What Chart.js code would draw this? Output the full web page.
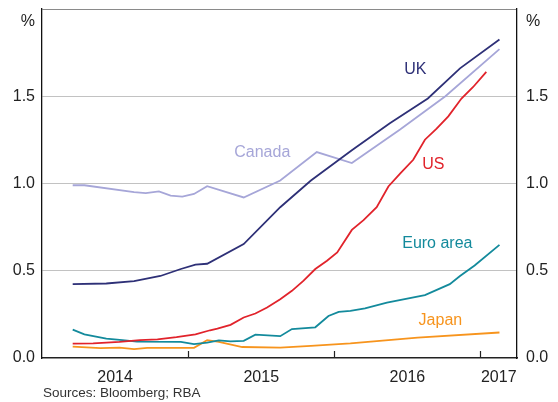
<!DOCTYPE html>
<html>
<head>
<meta charset="utf-8">
<script src="https://cdn.jsdelivr.net/npm/chart.js@4.4.1/dist/chart.umd.min.js"></script>
<style>
  html, body { margin: 0; padding: 0; background: #fff; }
  #wrap { width: 558px; height: 402px; position: relative; }
</style>
</head>
<body>
<div id="wrap"><canvas id="myChart"></canvas></div>
<script>
// dates are decimal years
const ukDates = [2014.21, 2014.44, 2014.63, 2014.81, 2014.95, 2015.05, 2015.13, 2015.38, 2015.63, 2015.84, 2016.12, 2016.38, 2016.64, 2016.86, 2017.13];
const ukValues = [0.423, 0.427, 0.44, 0.47, 0.51, 0.535, 0.54, 0.653, 0.864, 1.017, 1.19, 1.345, 1.487, 1.66, 1.825];

const canadaDates = [2014.21, 2014.29, 2014.63, 2014.71, 2014.80, 2014.88, 2014.96, 2015.04, 2015.13, 2015.38, 2015.63, 2015.88, 2016.12, 2016.45, 2016.76, 2017.13];
const canadaValues = [0.99, 0.99, 0.95, 0.945, 0.955, 0.93, 0.925, 0.94, 0.985, 0.92, 1.017, 1.18, 1.117, 1.31, 1.50, 1.77];

const usDates = [2014.21, 2014.35, 2014.53, 2014.67, 2014.79, 2014.92, 2015.05, 2015.15, 2015.20, 2015.29, 2015.38, 2015.46, 2015.54, 2015.63, 2015.71, 2015.79, 2015.87, 2015.95, 2016.02, 2016.12, 2016.20, 2016.29, 2016.37, 2016.45, 2016.54, 2016.62, 2016.70, 2016.78, 2016.87, 2016.95, 2017.04];
const usValues = [0.082, 0.084, 0.092, 0.103, 0.107, 0.12, 0.136, 0.159, 0.168, 0.19, 0.232, 0.255, 0.289, 0.337, 0.385, 0.443, 0.51, 0.557, 0.605, 0.734, 0.79, 0.864, 0.983, 1.056, 1.136, 1.251, 1.314, 1.385, 1.487, 1.553, 1.64];

const euroDates = [2014.21, 2014.29, 2014.44, 2014.55, 2014.65, 2014.95, 2015.04, 2015.13, 2015.21, 2015.29, 2015.38, 2015.46, 2015.63, 2015.71, 2015.87, 2015.96, 2016.03, 2016.11, 2016.21, 2016.36, 2016.62, 2016.79, 2016.86, 2016.96, 2017.13];
const euroValues = [0.163, 0.136, 0.111, 0.103, 0.094, 0.092, 0.08, 0.088, 0.101, 0.095, 0.098, 0.134, 0.125, 0.166, 0.176, 0.241, 0.264, 0.27, 0.284, 0.318, 0.36, 0.423, 0.47, 0.53, 0.648];

const japanDates = [2014.21, 2014.40, 2014.53, 2014.63, 2014.72, 2015.04, 2015.13, 2015.21, 2015.37, 2015.63, 2015.84, 2016.11, 2016.57, 2017.13];
const japanValues = [0.065, 0.057, 0.059, 0.051, 0.058, 0.058, 0.102, 0.092, 0.063, 0.059, 0.07, 0.084, 0.117, 0.146];

const yearLabels = ['2014', '2015', '2016', '2017'];
const yearLabelPos = [2014.5, 2015.5, 2016.5, 2017.125];
const yearTicks = [2015, 2016, 2017];
const yTicks = [0, 0.5, 1, 1.5, 2];

const pts = (d, v) => d.map((x, i) => ({ x: x, y: v[i] }));

const series = [
  { label: 'UK', data: pts(ukDates, ukValues), color: '#2e3077', at: [2016.555, 1.65] },
  { label: 'Canada', data: pts(canadaDates, canadaValues), color: '#a6a6d8', at: [2015.507, 1.178] },
  { label: 'US', data: pts(usDates, usValues), color: '#e1232b', at: [2016.678, 1.109] },
  { label: 'Euro area', data: pts(euroDates, euroValues), color: '#138a9c', at: [2016.705, 0.655] },
  { label: 'Japan', data: pts(japanDates, japanValues), color: '#f7941d', at: [2016.726, 0.213] }
];

const font = 'Arial, "Liberation Sans", sans-serif';

const extras = {
  id: 'extras',
  afterDraw(chart) {
    const c = chart.ctx, x = chart.scales.x, y = chart.scales.y;
    c.save();
    // year boundary ticks, pointing up into the plot
    c.strokeStyle = '#222';
    c.lineWidth = 1.2;
    yearTicks.forEach(t => {
      const px = Math.round(x.getPixelForValue(t)) + 0.5;
      c.beginPath();
      c.moveTo(px, y.bottom);
      c.lineTo(px, y.bottom - 7);
      c.stroke();
    });
    // series labels
    c.font = '16px ' + font;
    c.textAlign = 'center';
    c.textBaseline = 'middle';
    series.forEach(s => {
      c.fillStyle = s.color;
      c.fillText(s.label, x.getPixelForValue(s.at[0]), y.getPixelForValue(s.at[1]));
    });
    // unit labels
    c.fillStyle = '#222';
    c.textAlign = 'right';
    c.fillText('%', chart.chartArea.left - 7, 22);
    c.textAlign = 'left';
    c.fillText('%', chart.chartArea.right + 9, 22);
    // source
    c.font = '13.5px ' + font;
    c.textBaseline = 'alphabetic';
    c.fillStyle = '#333';
    c.fillText('Sources: Bloomberg; RBA', 43, 397);
    c.restore();
  }
};

const yAxis = (pos) => ({
  type: 'linear',
  position: pos,
  min: 0,
  max: 2,
  afterBuildTicks: s => { s.ticks = yTicks.map(v => ({ value: v })); },
  afterFit: s => {
    s.width = pos === 'left' ? 42 : 41;
    s.paddingTop = 9;
    s.paddingBottom = 0;
  },
  border: { display: true, color: '#111', width: 1.3 },
  grid: pos === 'left' ? {
    drawTicks: false,
    lineWidth: 1,
    color: ctx => ctx.tick.value === 2 ? '#8a8a8a' : (ctx.tick.value === 0 ? 'rgba(0,0,0,0)' : '#c2c2c2')
  } : { display: false, drawTicks: false },
  ticks: {
    padding: pos === 'left' ? 7 : 9,
    color: '#222',
    font: { size: 16, family: font },
    callback: v => v === 2 ? '' : v.toFixed(1)
  }
});

new Chart(document.getElementById('myChart'), {
  type: 'line',
  data: {
    datasets: series.map(s => ({
      label: s.label,
      data: s.data,
      borderColor: s.color,
      borderWidth: 1.8,
      pointRadius: 0,
      tension: 0,
      fill: false
    }))
  },
  options: {
    responsive: true,
    maintainAspectRatio: false,
    animation: false,
    layout: { padding: 0 },
    plugins: { legend: { display: false }, tooltip: { enabled: false } },
    scales: {
      x: {
        type: 'linear',
        min: 2014,
        max: 2017.25,
        afterBuildTicks: s => { s.ticks = yearLabelPos.map(v => ({ value: v })); },
        afterFit: s => { s.height = 44; s.paddingLeft = 0; s.paddingRight = 0; },
        border: { display: true, color: '#222', width: 1.6 },
        grid: { display: false, drawTicks: false },
        ticks: {
          autoSkip: false,
          maxRotation: 0,
          padding: 10,
          color: '#222',
          font: { size: 16, family: font },
          callback: (v, i) => yearLabels[i]
        }
      },
      y: yAxis('left'),
      y2: yAxis('right')
    }
  },
  plugins: [extras]
});
</script>
</body>
</html>
